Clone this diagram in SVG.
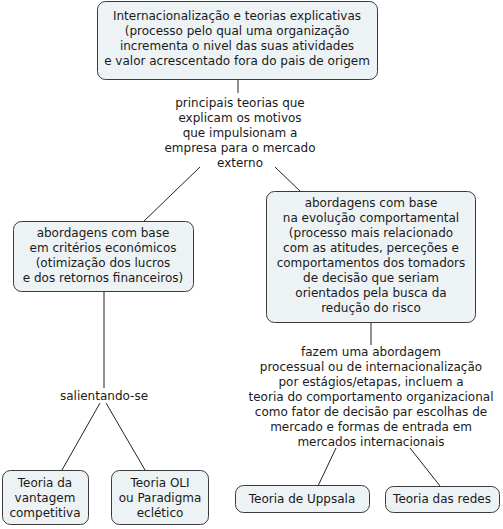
<svg xmlns="http://www.w3.org/2000/svg" width="503" height="529" viewBox="0 0 503 529">
<style>
.n{fill:#edf3f5;stroke:#3a3a3a;stroke-width:1}
text{font-family:"DejaVu Sans",Verdana,sans-serif;font-size:12px;fill:#1a1a1a;text-anchor:middle}
.c line{stroke:#222;stroke-width:1}
</style>
<rect width="503" height="529" fill="#fff"/>
<g class="c" id="connectors">
<line x1="238" y1="79" x2="238" y2="93"/>
<line x1="200" y1="167" x2="143" y2="222"/>
<line x1="275" y1="167" x2="301" y2="192"/>
<line x1="104" y1="291" x2="104" y2="388"/>
<line x1="100" y1="403" x2="62" y2="470"/>
<line x1="106" y1="403" x2="145" y2="470"/>
<line x1="371" y1="322" x2="371" y2="345"/>
<line x1="336" y1="448" x2="318" y2="486"/>
<line x1="410" y1="448" x2="440" y2="486"/>
</g>
<g id="top">
<rect class="n" x="97.5" y="1.5" width="280" height="78" rx="8"/>
<text x="237" y="20">Internacionalização e teorias explicativas</text>
<text x="237" y="35">(processo pelo qual uma organização</text>
<text x="237" y="50">incrementa o nivel das suas atividades</text>
<text x="237" y="65">e valor acrescentado fora do pais de origem</text>
</g>
<g id="label1">
<text x="240" y="107">principais teorias que</text>
<text x="240" y="122">explicam os motivos</text>
<text x="240" y="137">que impulsionam a</text>
<text x="240" y="152">empresa para o mercado</text>
<text x="240" y="167">externo</text>
</g>
<g id="economicos">
<rect class="n" x="13.5" y="221.5" width="180" height="70" rx="8"/>
<text x="103" y="237">abordagens com base</text>
<text x="103" y="252">em critérios económicos</text>
<text x="103" y="267">(otimização dos lucros</text>
<text x="103" y="282">e dos retornos financeiros)</text>
</g>
<g id="comportamental">
<rect class="n" x="266.5" y="191.5" width="209" height="131" rx="8"/>
<text x="371" y="207">abordagens com base</text>
<text x="371" y="222">na evolução comportamental</text>
<text x="371" y="237">(processo mais relacionado</text>
<text x="371" y="252">com as atitudes, perceções e</text>
<text x="371" y="267">comportamentos dos tomadors</text>
<text x="371" y="282">de decisão que seriam</text>
<text x="371" y="297">orientados pela busca da</text>
<text x="371" y="312">redução do risco</text>
</g>
<g id="label2">
<text x="104" y="400">salientando-se</text>
</g>
<g id="vantagem">
<rect class="n" x="2.5" y="470.5" width="86" height="54" rx="8"/>
<text x="45" y="487">Teoria da</text>
<text x="45" y="502">vantagem</text>
<text x="45" y="517">competitiva</text>
</g>
<g id="oli">
<rect class="n" x="111.5" y="470.5" width="97" height="54" rx="8"/>
<text x="160" y="487">Teoria OLI</text>
<text x="160" y="502">ou Paradigma</text>
<text x="160" y="517">eclético</text>
</g>
<g id="label3">
<text x="371" y="356">fazem uma abordagem</text>
<text x="371" y="371">processual ou de internacionalização</text>
<text x="371" y="386">por estágios/etapas, incluem a</text>
<text x="371" y="401">teoria do comportamento organizacional</text>
<text x="371" y="416">como fator de decisão par escolhas de</text>
<text x="371" y="431">mercado e formas de entrada em</text>
<text x="371" y="446">mercados internacionais</text>
</g>
<g id="uppsala">
<rect class="n" x="235.5" y="485.5" width="134" height="27" rx="8"/>
<text x="302" y="503">Teoria de Uppsala</text>
</g>
<g id="redes">
<rect class="n" x="385.5" y="486.5" width="114" height="26" rx="8"/>
<text x="442" y="503">Teoria das redes</text>
</g>
</svg>
